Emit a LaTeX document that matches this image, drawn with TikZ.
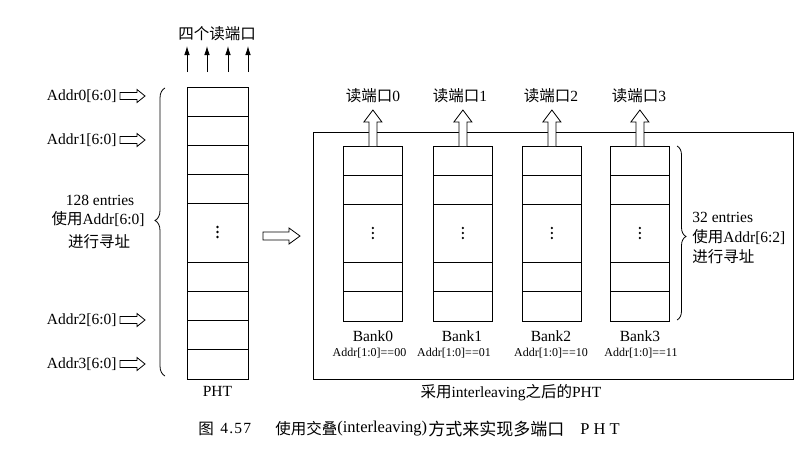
\documentclass[tikz,border=0pt]{standalone}
\usepackage{fontspec}
\setmainfont{Liberation Serif}
\newfontfamily\cjk{Noto Sans CJK SC}
\usetikzlibrary{decorations.pathreplacing,arrows.meta,calc}
% hollow arrow pointing right: #1 tail coordinate, #2 length, #3 shaft half width, #4 head half width, #5 head length
\newcommand{\myrarrow}[5]{%
  \draw[hollow] (#1) ++(0,-#3) -- ++({#2-#5},0) -- ++(0,{-(#4-#3)}) -- ++(#5,#4)
     -- ++(-#5,#4) -- ++(0,{-(#4-#3)}) -- ++({-(#2-#5)},0) -- cycle;}
% hollow arrow pointing up (open at its tail)
\newcommand{\myuarrow}[5]{%
  \draw[hollow] (#1) ++(-#3,0) -- ++(0,{-(#2-#5)}) -- ++({-(#4-#3)},0) -- ++(#4,-#5)
     -- ++(#4,#5) -- ++({-(#4-#3)},0) -- ++(0,{#2-#5});}
\newcommand{\mydots}[1]{%
  \foreach \dd in {-5,0,5} \fill ($(#1)+(0,\dd)$) circle (1.3pt);}
\begin{document}
\begin{tikzpicture}[x=1pt,y=-1pt,line width=0.8pt,
  every node/.style={font=\fontsize{15.5}{18}\selectfont,inner sep=0pt},
  hollow/.style={draw,fill=white,line width=0.8pt,line join=miter},
  cell/.style={draw,minimum width=59pt,minimum height=175pt,anchor=north west},
  small/.style={font=\fontsize{12}{13}\selectfont},
  thinarrow/.style={-{Latex[length=9pt,width=5.5pt]},line width=0.8pt}]
\useasboundingbox (0,0) rectangle (811,450);

% ---------- left PHT ----------
\node[draw,minimum width=61pt,minimum height=292pt,anchor=north west] (pht) at (187,87) {};
\foreach \yy in {116,145,174,203,262,291,320,349}
  \draw (187,\yy) -- (248,\yy);
\coordinate (phtdots) at (217.5,232);
\mydots{phtdots}
\node (phtlabel) at (217.5,391) {PHT};

% four thin read arrows
\foreach \xx/\i in {187/0,207/1,228/2,248/3}{
  \coordinate (rs\i) at (\xx,72);
  \coordinate (re\i) at (\xx,46);
  \draw[thinarrow] (rs\i) -- (re\i);
}
\node (four) at (217,34) {\cjk 四个读端口};

% address inputs
\foreach \yy/\i in {96/0,140/1,320/2,364/3}{
  \node[anchor=east] (addr\i) at (117,\yy) {Addr\i[6:0]};
  \coordinate (ain\i) at (120,\yy);
  \myrarrow{ain\i}{25}{3.5}{6.5}{8}
}

% left brace and text
\draw[decorate,decoration={brace,amplitude=10pt,aspect=0.54}] (165,376) -- (165,88);
\node (e128) at (100,200) {128 entries};
\node (use60) at (98,219) {{\cjk 使用}Addr[6:0]};
\node (addr60) at (99,242) {\cjk 进行寻址};

% big arrow
\coordinate (bigtail) at (263,236);
\myrarrow{bigtail}{37}{4}{8}{11}

% ---------- right interleaved PHT ----------
\node[draw,minimum width=480pt,minimum height=247pt,anchor=north west] (frame) at (313,132) {};
\foreach \xx/\i/\bx/\px in {343/0/373/373, 433/1/462/460, 522/2/551/551, 610/3/640/639}{
  \node[cell] (bank\i) at (\xx,146) {};
  \foreach \yy in {175,204,262,291}
    \draw (\xx,\yy) -- ($(\xx,\yy)+(59,0)$);
  \coordinate (bdots\i) at ($(bank\i.north)+(0,87)$);
  \mydots{bdots\i}
  \myuarrow{bank\i.north}{36}{4}{9}{12}
  \node (port\i) at (\px,96) {{\cjk 读端口}\i};
  \node (bname\i) at (\bx,336) {Bank\i};
}
\node[small] (sel0) at (369.5,353) {Addr[1:0]==00};
\node[small] (sel1) at (454,353) {Addr[1:0]==01};
\node[small] (sel2) at (551,353) {Addr[1:0]==10};
\node[small] (sel3) at (641,353) {Addr[1:0]==11};

% right brace and text
\draw[decorate,decoration={brace,amplitude=9pt,aspect=0.52}] (677,146) -- (677,320);
\node[anchor=west] (e32) at (692,217) {32 entries};
\node[anchor=west] (use62) at (692,237) {{\cjk 使用}Addr[6:2]};
\node[anchor=west] (addr62) at (692,257) {\cjk 进行寻址};

\node (after) at (511,393) {{\cjk 采用}interleaving{\cjk 之后的}PHT};

% ---------- caption ----------
\node[anchor=west] (cap1) at (198,429) {\cjk 图};
\node[anchor=west] (cap2) at (220,429) {\addfontfeature{LetterSpace=8}4.57};
\node[anchor=west] (cap3) at (275,429) {\cjk 使用交叠};
\node[anchor=west] (cap4) at (337,429) {\fontsize{16.5}{18}\selectfont(interleaving)};
\node[anchor=west] (cap5) at (428,429) {\fontsize{17}{18}\selectfont\cjk 方式来实现多端口};
\node[anchor=west] (cap6) at (580,429) {\addfontfeature{LetterSpace=25}\fontsize{16.5}{18}\selectfont PHT};
\end{tikzpicture}
\end{document}
